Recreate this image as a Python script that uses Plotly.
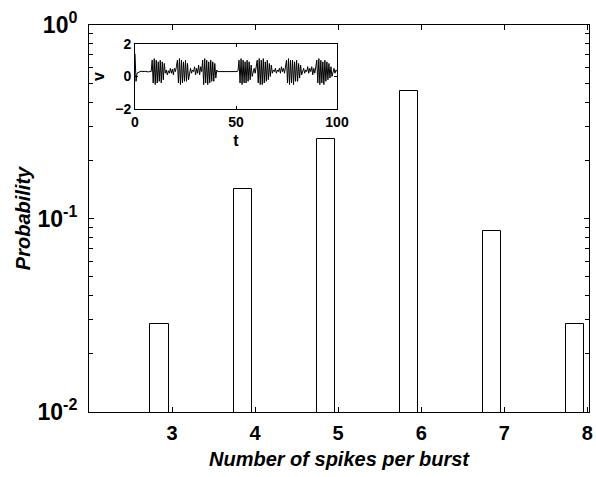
import numpy as np
import plotly.graph_objects as go

# Histogram data
spikes_per_burst = [2.85, 3.85, 4.85, 5.85, 6.85, 7.85]
probability = [1/35, 5/35, 9/35, 16/35, 3/35, 1/35]
x_ticks = [3, 4, 5, 6, 7, 8]
y_tickvals = [0.01, 0.1, 1]
y_ticktext = ["10<sup>-2</sup>", "10<sup>-1</sup>", "10<sup>0</sup>"]

v_trace = (
    [1.4, -0.3, 0.2, 0.25, 0.3, 0.3, 0.32, 0.3, 0.28, 0.3, 0.32, 0.3, 0.3, 0.28, 0.3, 0.32, 0.3]
    + [1.0, -0.4, 1.1, -0.5, 1.0, -0.4, 0.9, -0.3, 1.0, -0.4, 0.9, -0.2, 0.8]
    + [0.2, 0.4, 0.1, 0.35, 0.2, 0.5, 0.2, 0.45, 0.1, 0.5, 0.3, 0.6]
    + [1.0, -0.4, 1.1, -0.5, 1.0, -0.4, 0.9, -0.3, 1.0, -0.3, 0.8, -0.2]
    + [0.3, 0.5, 0.2, 0.4, 0.3, 0.6, 0.1, 0.5, 0.2, 0.7, 0.1, 0.6, 0.3]
    + [1.0, -0.5, 1.1, -0.4, 1.0, -0.5, 0.9, -0.4, 1.0, -0.3, 0.9, -0.3, 0.8, -0.1]
    + [0.4, 0.3, 0.3, 0.3, 0.3, 0.32, 0.3, 0.3, 0.3, 0.28, 0.3, 0.3, 0.3, 0.3, 0.32, 0.3, 0.3, 0.3, 0.3, 0.3, 0.3, 0.35]
    + [1.0, -0.4, 1.1, -0.5, 1.0, -0.4, 0.9, -0.4, 1.0, -0.3, 0.9, -0.2, 0.7, 0.0]
    + [0.3, 0.5, 0.2, 0.6]
    + [1.0, -0.4, 1.1, -0.5, 1.0, -0.5, 1.1, -0.4, 0.9, -0.3, 1.0, -0.2, 0.8, 0.0, 0.7]
    + [0.2, 0.4, 0.3, 0.5, 0.2, 0.4, 0.3, 0.5, 0.2, 0.6, 0.3, 0.5, 0.2, 0.6]
    + [1.0, -0.4, 1.1, -0.5, 1.0, -0.4, 1.0, -0.5, 0.9, -0.3, 1.0, -0.3, 0.8, -0.1, 0.7, 0.1]
    + [0.3, 0.5, 0.2, 0.4, 0.3, 0.6, 0.2, 0.5, 0.3, 0.6, 0.1, 0.5, 0.2, 0.6]
    + [1.0, -0.4, 1.1, -0.5, 1.0, -0.4, 0.9, -0.5, 1.0, -0.3, 0.9, -0.2, 0.8, -0.1, 0.6, 0.0]
    + [0.3, 0.5, 0.2, 0.4, 0.3]
)
t_trace = np.linspace(0, 100, len(v_trace))

FONT = "Liberation Sans, Arial, sans-serif"

fig = go.Figure()
fig.add_trace(go.Bar(
    x=spikes_per_burst, y=probability, width=0.22,
    marker=dict(color="white", line=dict(color="black", width=1)),
    xaxis="x", yaxis="y", showlegend=False,
))
fig.add_trace(go.Scatter(
    x=t_trace, y=v_trace, mode="lines",
    line=dict(color="black", width=1),
    xaxis="x2", yaxis="y2", showlegend=False,
))

minor_vals = [k * 10.0 ** e for e in (-2, -1) for k in range(2, 10)]

fig.update_layout(
    width=596, height=477,
    margin=dict(l=89, r=7, t=25, b=65),
    paper_bgcolor="white", plot_bgcolor="white",
    font=dict(family=FONT, color="black"),
    bargap=0,
    xaxis=dict(
        domain=[0, 1], range=[2, 8.02], automargin=False,
        tickvals=x_ticks, ticks="inside", ticklen=5, tickcolor="black",
        showline=True, linecolor="black", linewidth=1, mirror="ticks",
        showgrid=False, zeroline=False, ticklabelstandoff=3,
        tickfont=dict(size=20, family=FONT, weight="bold"),
        title=dict(text="Number of spikes per burst", standoff=8,
                   font=dict(size=20, family=FONT, weight="bold", style="italic")),
    ),
    yaxis=dict(
        domain=[0, 1], type="log", range=[-2, 0], automargin=False,
        tickvals=y_tickvals, ticktext=y_ticktext,
        ticks="inside", ticklen=5, tickcolor="black",
        minor=dict(tickvals=minor_vals, ticks="inside", ticklen=4, tickcolor="black"),
        showline=True, linecolor="black", linewidth=1, mirror="ticks",
        showgrid=False, zeroline=False, ticklabelstandoff=6,
        tickfont=dict(size=23, family=FONT, weight="bold"),
        title=dict(text="Probability", standoff=1,
                   font=dict(size=20, family=FONT, weight="bold", style="italic")),
    ),
    xaxis2=dict(
        domain=[0.092, 0.496], anchor="y2", range=[0, 100], automargin=False,
        tickvals=[0, 50, 100], ticks="inside", ticklen=3, tickcolor="black",
        showline=True, linecolor="black", linewidth=1, mirror="ticks",
        showgrid=False, zeroline=False,
        tickfont=dict(size=14, family=FONT, weight="bold"),
        title=dict(text="t", standoff=6, font=dict(size=16, family=FONT, weight="bold")),
    ),
    yaxis2=dict(
        domain=[0.783, 0.951], anchor="x2", range=[-2, 2], automargin=False,
        tickvals=[-2, 0, 2], ticks="inside", ticklen=3, tickcolor="black",
        showline=True, linecolor="black", linewidth=1, mirror="ticks",
        showgrid=False, zeroline=False,
        tickfont=dict(size=14, family=FONT, weight="bold"),
        title=dict(text="v", standoff=6, font=dict(size=16, family=FONT, weight="bold")),
    ),
)

fig.write_html("out.html")
